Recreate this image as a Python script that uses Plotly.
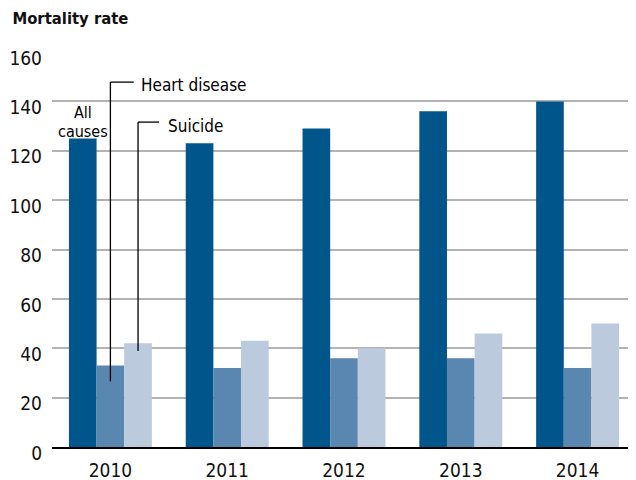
import plotly.graph_objects as go

years = ["2010", "2011", "2012", "2013", "2014"]
all_causes = [125, 123, 129, 136, 140]
heart_disease = [33, 32, 36, 36, 32]
suicide = [42, 43, 40, 46, 50]
y_ticks = [0, 20, 40, 60, 80, 100, 120, 140, 160]

FONT = "DejaVu Sans Condensed, Roboto, sans-serif"

fig = go.Figure()
fig.add_trace(go.Bar(x=years, y=all_causes, name="All causes", marker_color="#00558a", marker_line_width=0))
fig.add_trace(go.Bar(x=years, y=heart_disease, name="Heart disease", marker_color="#5a87b0", marker_line_width=0))
fig.add_trace(go.Bar(x=years, y=suicide, name="Suicide", marker_color="#bbcadd", marker_line_width=0))

bw = (1 - 0.29) / 3

# leader lines
line = dict(color="black", width=1.3)
fig.add_shape(type="line", x0=0, x1=0, y0=26.6, y1=147.8, xref="x", yref="y", line=line)
fig.add_shape(type="line", x0=0, x1=0.2, y0=147.8, y1=147.8, xref="x", yref="y", line=line)
fig.add_shape(type="line", x0=bw, x1=bw, y0=38.9, y1=131.6, xref="x", yref="y", line=line)
fig.add_shape(type="line", x0=bw, x1=0.417, y0=131.6, y1=131.6, xref="x", yref="y", line=line)

ann_font = dict(family=FONT, size=17, color="black")
small_font = dict(family=FONT, size=16, color="black")
fig.add_annotation(x=0.243, y=146.6, text="Heart disease", showarrow=False, xanchor="left",
                   yanchor="middle", font=ann_font)
fig.add_annotation(x=0.474, y=130.2, text="Suicide", showarrow=False, xanchor="left",
                   yanchor="middle", font=ann_font)
fig.add_annotation(x=-bw, y=135.6, text="All", showarrow=False, xanchor="center",
                   yanchor="middle", font=small_font)
fig.add_annotation(x=-bw, y=127.9, text="causes", showarrow=False, xanchor="center",
                   yanchor="middle", font=small_font)

# page body adds an 8px margin; figure is sized so its content lands where the reference has it
fig.update_layout(
    width=628, height=472,
    margin=dict(l=44, r=0, t=44, b=33),
    paper_bgcolor="white", plot_bgcolor="white",
    barmode="group", bargap=0.29, bargroupgap=0,
    showlegend=False,
    font=dict(family=FONT, size=19, color="#111"),
    title=dict(text="<b>Mortality rate</b>", x=0.007, xanchor="left", y=0.979, yanchor="middle",
               font=dict(family=FONT, size=16.5, color="#111")),
)
fig.update_yaxes(range=[0, 160], tickvals=y_ticks, showgrid=True, gridcolor="#b3b3b3", gridwidth=1.5,
                 zeroline=False, ticks="", showline=False, ticklabelstandoff=9, ticklabelshift=6,
                 automargin=False)
fig.update_xaxes(showline=True, linecolor="black", linewidth=2, ticks="", showgrid=False,
                 ticklabelstandoff=5, automargin=False)

fig.write_html("out.html")
